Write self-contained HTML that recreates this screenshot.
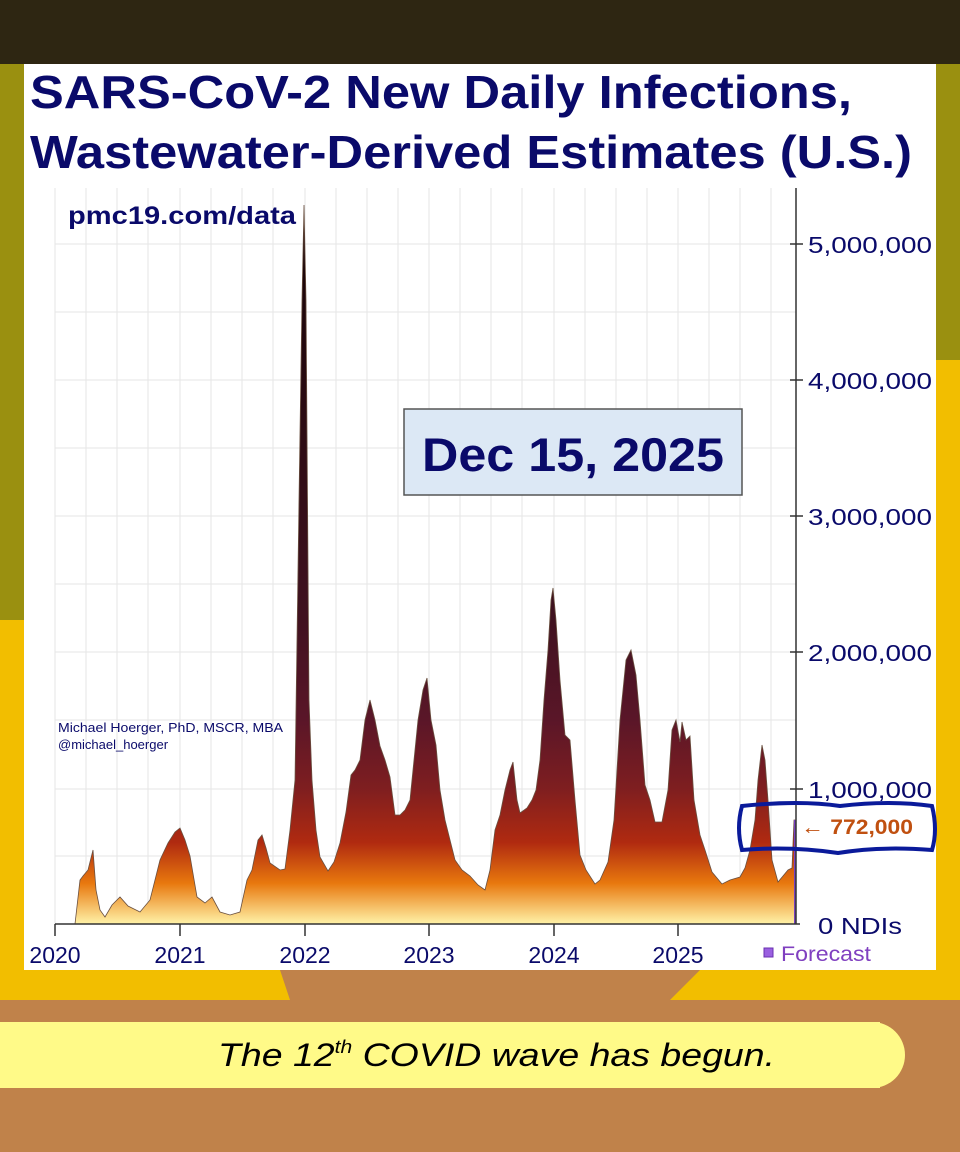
<!DOCTYPE html>
<html><head><meta charset="utf-8"><style>
body{margin:0;width:960px;height:1152px;overflow:hidden;background:#c0824a;font-family:"Liberation Sans",sans-serif;}
</style></head><body>
<svg width="960" height="1152" viewBox="0 0 960 1152" xmlns="http://www.w3.org/2000/svg" style="position:absolute;left:0;top:0">
<defs>
<linearGradient id="g" gradientUnits="userSpaceOnUse" x1="0" y1="244" x2="0" y2="924">
<stop offset="0" stop-color="#1a0508"/>
<stop offset="0.55" stop-color="#401220"/>
<stop offset="0.7" stop-color="#5a1628"/>
<stop offset="0.8" stop-color="#7e1e20"/>
<stop offset="0.88" stop-color="#b02a10"/>
<stop offset="0.94" stop-color="#e8780e"/>
<stop offset="1" stop-color="#fff3a8"/>
</linearGradient>
</defs>
<rect x="0" y="0" width="960" height="1152" fill="#c0824a"/>
<rect x="0" y="0" width="960" height="1000" fill="#f2be00"/>
<rect x="0" y="60" width="60" height="560" fill="#9a9010"/>
<rect x="900" y="60" width="60" height="300" fill="#9a9010"/>
<rect x="0" y="0" width="960" height="64" fill="#2e2612"/>
<polygon points="280,970 700,970 640,1030 300,1030" fill="#c0824a"/>
<rect x="0" y="1022" width="880" height="66" fill="#fffa88"/>
<circle cx="872" cy="1055" r="33" fill="#fffa88"/>
<text x="218" y="1066" font-size="32" font-style="italic" fill="#000" textLength="557" lengthAdjust="spacingAndGlyphs">The 12<tspan font-size="18" dy="-13">th</tspan><tspan dy="13"> COVID wave has begun.</tspan></text>
<rect x="24" y="64" width="912" height="906" fill="#fff"/>
<text x="30" y="108" font-size="46" font-weight="bold" fill="#0a0a6a" textLength="822" lengthAdjust="spacingAndGlyphs">SARS-CoV-2 New Daily Infections,</text>
<text x="30" y="168" font-size="46" font-weight="bold" fill="#0a0a6a" textLength="882" lengthAdjust="spacingAndGlyphs">Wastewater-Derived Estimates (U.S.)</text>
<g stroke="#e6e6e6" stroke-width="1">
<line x1="55" y1="244" x2="796" y2="244"/><line x1="55" y1="312" x2="796" y2="312"/><line x1="55" y1="380" x2="796" y2="380"/><line x1="55" y1="448" x2="796" y2="448"/><line x1="55" y1="516" x2="796" y2="516"/><line x1="55" y1="584" x2="796" y2="584"/><line x1="55" y1="652" x2="796" y2="652"/><line x1="55" y1="720" x2="796" y2="720"/><line x1="55" y1="789" x2="796" y2="789"/><line x1="55" y1="856" x2="796" y2="856"/>
<line x1="55" y1="188" x2="55" y2="924"/><line x1="86" y1="188" x2="86" y2="924"/><line x1="117" y1="188" x2="117" y2="924"/><line x1="148" y1="188" x2="148" y2="924"/><line x1="180" y1="188" x2="180" y2="924"/><line x1="211" y1="188" x2="211" y2="924"/><line x1="242" y1="188" x2="242" y2="924"/><line x1="273" y1="188" x2="273" y2="924"/><line x1="305" y1="188" x2="305" y2="924"/><line x1="336" y1="188" x2="336" y2="924"/><line x1="367" y1="188" x2="367" y2="924"/><line x1="398" y1="188" x2="398" y2="924"/><line x1="429" y1="188" x2="429" y2="924"/><line x1="460" y1="188" x2="460" y2="924"/><line x1="491" y1="188" x2="491" y2="924"/><line x1="522" y1="188" x2="522" y2="924"/><line x1="554" y1="188" x2="554" y2="924"/><line x1="585" y1="188" x2="585" y2="924"/><line x1="616" y1="188" x2="616" y2="924"/><line x1="647" y1="188" x2="647" y2="924"/><line x1="678" y1="188" x2="678" y2="924"/><line x1="709" y1="188" x2="709" y2="924"/><line x1="740" y1="188" x2="740" y2="924"/><line x1="771" y1="188" x2="771" y2="924"/>
</g>
<path fill="url(#g)" stroke="#6a5040" stroke-width="0.8" d="M75,924 L80,880 83,876 88,870 93,850 96,890 100,910 105,917 112,905 120,897 128,906 140,912 150,900 160,860 168,843 175,832 180,828 185,840 190,856 197,897 205,903 212,897 220,912 230,915 240,912 247,880 252,870 258,840 262,835 266,848 270,863 280,870 285,869 290,830 295,780 299,500 302,300 304,205 306,300 309,700 312,780 316,830 320,857 328,871 334,862 340,843 346,812 351,775 355,770 360,760 365,720 370,700 375,720 380,746 385,760 390,777 395,815 400,815 405,810 410,800 414,760 418,720 423,690 427,678 431,720 436,745 440,790 445,820 450,840 455,860 462,870 470,876 478,885 485,890 490,870 495,830 500,815 505,790 510,770 513,762 517,800 520,813 527,808 532,800 536,790 540,760 544,700 548,650 551,600 553,588 556,620 560,680 565,735 570,740 575,800 580,855 586,870 595,884 600,880 608,862 614,820 620,720 626,660 631,650 636,675 640,720 645,785 650,800 655,822 662,822 668,790 672,730 676,720 680,742 682,722 686,740 690,736 694,800 700,835 705,850 712,872 722,884 730,880 740,877 745,868 750,850 755,820 758,780 762,745 765,760 768,800 772,860 778,882 783,876 788,870 792,868 794,820 795,820 795,924 Z"/>
<rect x="794" y="820" width="2" height="104" fill="#7a40c0"/>
<line x1="796" y1="188" x2="796" y2="924" stroke="#333" stroke-width="1.5"/>
<line x1="55" y1="924" x2="800" y2="924" stroke="#333" stroke-width="1.5"/>
<g stroke="#333" stroke-width="1.5">
<line x1="790" y1="244" x2="803" y2="244"/><line x1="790" y1="380" x2="803" y2="380"/><line x1="790" y1="516" x2="803" y2="516"/><line x1="790" y1="652" x2="803" y2="652"/><line x1="790" y1="789" x2="803" y2="789"/>
<line x1="55" y1="924" x2="55" y2="936"/><line x1="180" y1="924" x2="180" y2="936"/><line x1="305" y1="924" x2="305" y2="936"/><line x1="429" y1="924" x2="429" y2="936"/><line x1="554" y1="924" x2="554" y2="936"/><line x1="678" y1="924" x2="678" y2="936"/>
</g>
<g font-size="23" fill="#0a0a6a">
<text x="808" y="253" textLength="124" lengthAdjust="spacingAndGlyphs">5,000,000</text><text x="808" y="389" textLength="124" lengthAdjust="spacingAndGlyphs">4,000,000</text><text x="808" y="525" textLength="124" lengthAdjust="spacingAndGlyphs">3,000,000</text><text x="808" y="661" textLength="124" lengthAdjust="spacingAndGlyphs">2,000,000</text><text x="808" y="798" textLength="124" lengthAdjust="spacingAndGlyphs">1,000,000</text><text x="818" y="934" textLength="84" lengthAdjust="spacingAndGlyphs">0  NDIs</text>
<text x="55" y="963" text-anchor="middle">2020</text><text x="180" y="963" text-anchor="middle">2021</text><text x="305" y="963" text-anchor="middle">2022</text><text x="429" y="963" text-anchor="middle">2023</text><text x="554" y="963" text-anchor="middle">2024</text><text x="678" y="963" text-anchor="middle">2025</text>
</g>
<rect x="764" y="948" width="9" height="9" fill="#9a60e0" stroke="#6a30b0"/>
<text x="781" y="961" font-size="21" fill="#8040c0" textLength="90" lengthAdjust="spacingAndGlyphs">Forecast</text>
<text x="68" y="224" font-size="25" font-weight="bold" fill="#0a0a6a" textLength="228" lengthAdjust="spacingAndGlyphs">pmc19.com/data</text>
<text x="58" y="732" font-size="13" fill="#0a0a6a" textLength="225" lengthAdjust="spacingAndGlyphs">Michael Hoerger, PhD, MSCR, MBA</text>
<text x="58" y="749" font-size="13" fill="#0a0a6a">@michael_hoerger</text>
<rect x="404" y="409" width="338" height="86" fill="#dce8f5" stroke="#555" stroke-width="1.5"/>
<text x="573" y="471" text-anchor="middle" font-size="47" font-weight="bold" fill="#0a0a6a" textLength="302" lengthAdjust="spacingAndGlyphs">Dec 15, 2025</text>
<text x="801" y="834" font-size="21" font-weight="bold" fill="#c05010" textLength="112" lengthAdjust="spacingAndGlyphs">← 772,000</text>
<path d="M742,806 Q800,800 840,806 Q890,800 932,806 Q938,830 932,850 Q880,846 838,853 Q790,846 742,850 Q736,828 742,806 Z" fill="none" stroke="#0a1a9a" stroke-width="4"/>
</svg>
</body></html>
